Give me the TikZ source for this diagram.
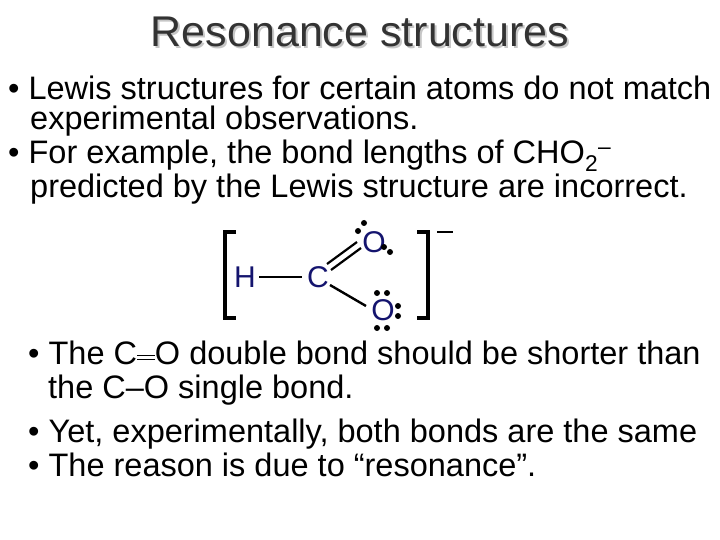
\documentclass[tikz,border=0pt]{standalone}
\usepackage{fontspec}
\setmainfont{Liberation Sans}
\definecolor{atom}{RGB}{20,20,110}
\begin{document}
\begin{tikzpicture}[x=1pt,y=-1pt,
  body/.style={anchor=base west,inner sep=0,font=\fontsize{32.5}{36}\selectfont},
  atm/.style={inner sep=0,text=atom,font=\fontsize{30}{34}\selectfont},
  bond/.style={line width=2.4pt}]
\useasboundingbox (0,0) rectangle (720,540);
\node[inner sep=0,text=gray!45,font=\fontsize{43}{48}\selectfont] (tsh) at (362,34) {Resonance structures};
\node[inner sep=0,text=black!80,font=\fontsize{43}{48}\selectfont] (t) at (360,32) {Resonance structures};
\node[body] (l1) at (8,100) {•\ Lewis structures for certain atoms do not match};
\node[body] (l2) at (30,130) {experimental observations.};
\node[body] (l3) at (8,164) {•\ For example, the bond lengths of CHO\textsubscript{2}\textsuperscript{–}};
\node[body] (l4) at (30,198) {predicted by the Lewis structure are incorrect.};
\node[body] (b1) at (28,364) {•\ The C\raisebox{0.22ex}{\rule{0.55em}{1.6pt}}\hspace{-0.55em}\raisebox{0.45ex}{\rule{0.55em}{1.6pt}}O double bond should be shorter than};
\node[body] (b2) at (48,398) {the C–O single bond.};
\node[body] (b3) at (28,442) {•\ Yet, experimentally, both bonds are the same};
\node[body] (b4) at (28,476) {•\ The reason is due to “resonance”.};
% Lewis structure
\node[atm] (H) at (245,277) {H};
\node[atm] (C) at (318,277) {C};
\node[atm] (O1) at (374,242) {O};
\node[atm] (O2) at (383,310) {O};
\draw[bond] (259,277) -- (302,277);
\draw[line width=2.2pt] (327,264) -- (357,242);
\draw[line width=2.2pt] (331,270) -- (361,248);
\draw[bond] (330,285) -- (366,306);
% brackets
\draw[line width=4.5pt] (236,232) -- (225,232) -- (225,318) -- (236,318);
\draw[line width=4.5pt] (417,232) -- (428,232) -- (428,318) -- (417,318);
\draw[line width=2pt] (437,232) -- (453,232);
% dots
\foreach \p in {(364,223),(358,231),(384,247),(390,252),(377,293),(387,293),(398,306),(398,316),(377,328),(387,328)}
  \fill \p circle (3);
\end{tikzpicture}
\end{document}
